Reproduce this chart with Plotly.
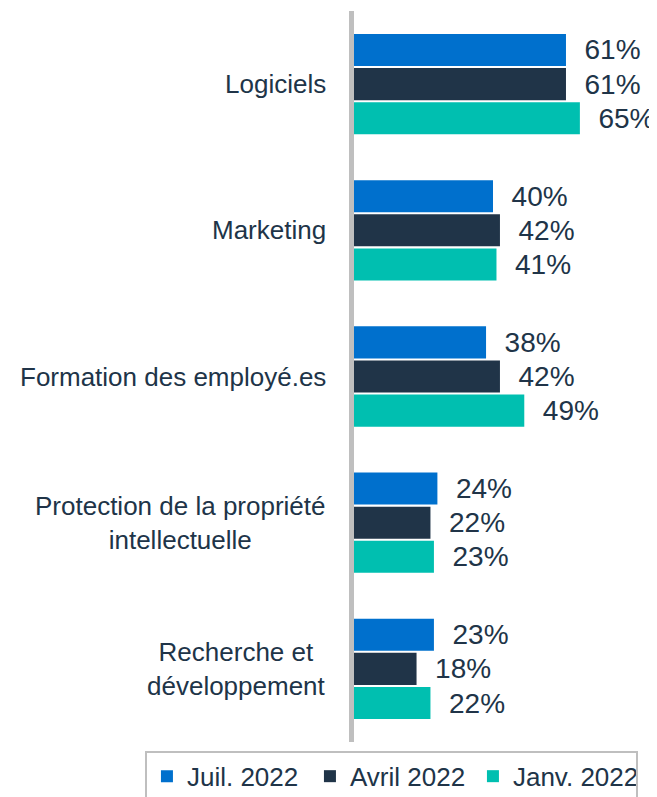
import plotly.graph_objects as go

categories = ["Logiciels", "Marketing", "Formation des employé.es",
              "Protection de la propriété<br>intellectuelle",
              "Recherche et<br>développement"]
series_names = ["Juil. 2022", "Avril 2022", "Janv. 2022"]
juil_2022 = [61, 40, 38, 24, 23]
avril_2022 = [61, 42, 42, 22, 18]
janv_2022 = [65, 41, 49, 23, 22]
colors = ["#0070CD", "#203448", "#00BFB0"]

TXT = "#203448"
FONT = "Liberation Sans, Arial, sans-serif"

fig = go.Figure()
for name, vals, col in zip(series_names, [juil_2022, avril_2022, janv_2022], colors):
    fig.add_trace(go.Bar(
        y=categories, x=vals, name=name, orientation="h",
        marker=dict(color=col, line=dict(width=0)),
        texttemplate="\u00a0\u00a0%{x}%", textposition="outside",
        textfont=dict(size=28, color=TXT, family=FONT),
        cliponaxis=False,
    ))

for c in categories:
    fig.add_annotation(x=0, xref="paper", y=c, yref="y", text=c,
                       showarrow=False, xanchor="right", yanchor="middle",
                       align="center", xshift=-26,
                       font=dict(size=26, color=TXT, family=FONT))

fig.update_layout(
    width=649, height=789,
    margin=dict(l=346, r=25, t=3, b=55, autoexpand=False),
    barmode="group", bargap=0.30, bargroupgap=0.06,
    plot_bgcolor="white", paper_bgcolor="white",
    font=dict(family=FONT, size=26, color=TXT),
    showlegend=True,
    legend=dict(orientation="h", x=-0.752, xanchor="left", y=-0.012, yanchor="top",
                bordercolor="#BFBFBF", borderwidth=2, bgcolor="white",
                font=dict(size=26, color=TXT, family=FONT),
                itemwidth=30, entrywidth=118, traceorder="normal"),
)
fig.update_xaxes(range=[0, 80], showgrid=False, zeroline=False, showticklabels=False,
                 showline=False)
fig.update_yaxes(autorange="reversed", showgrid=False, showticklabels=False,
                 showline=True, linecolor="#BFBFBF", linewidth=5, ticks="")

fig.write_html("out.html")
